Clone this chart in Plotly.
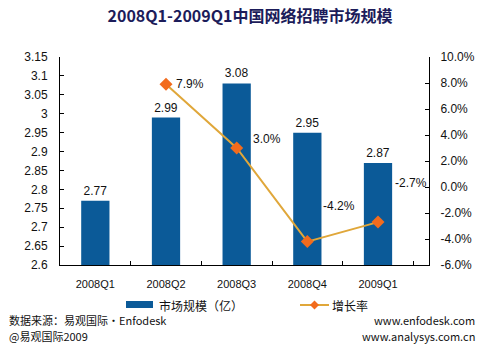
import plotly.graph_objects as go

categories = ["2008Q1", "2008Q2", "2008Q3", "2008Q4", "2009Q1"]
market_size = [2.77, 2.99, 3.08, 2.95, 2.87]
growth_x = ["2008Q2", "2008Q3", "2008Q4", "2009Q1"]
growth_rate = [7.9, 3.0, -4.2, -2.7]
growth_labels = ["7.9%", "3.0%", "-4.2%", "-2.7%"]
left_ticks = [2.6, 2.65, 2.7, 2.75, 2.8, 2.85, 2.9, 2.95, 3.0, 3.05, 3.1, 3.15]
left_ticktext = ["2.6", "2.65", "2.7", "2.75", "2.8", "2.85", "2.9", "2.95", "3", "3.05", "3.1", "3.15"]
right_ticks = [-6, -4, -2, 0, 2, 4, 6, 8, 10]
right_ticktext = ["-6.0%", "-4.0%", "-2.0%", "0.0%", "2.0%", "4.0%", "6.0%", "8.0%", "10.0%"]

FONT = "Liberation Sans, Arial, Noto Sans CJK SC, sans-serif"
CJK = "Noto Sans CJK SC, Liberation Sans, sans-serif"
BAR_COLOR = "#0B5A98"
LINE_COLOR = "#E0A73A"
MARK_COLOR = "#F26B1D"

# plot area in pixels: x 60..429, y 57..265
L, R, T, B = 60, 429, 57, 265
PW, PH = R - L, B - T


def px(xp):
    return (xp - L) / PW


def py(yp):
    return (B - yp) / PH


fig = go.Figure()
fig.add_trace(go.Bar(
    x=categories, y=market_size, name="市场规模（亿）",
    marker=dict(color=BAR_COLOR, line=dict(width=0)),
    width=0.4,
    text=[f"{v:.2f}" for v in market_size], textposition="outside",
    textfont=dict(size=12, color="#111111", family=FONT),
    cliponaxis=False, showlegend=False,
))
fig.add_trace(go.Scatter(
    x=growth_x, y=growth_rate, name="增长率", yaxis="y2",
    mode="lines+markers",
    line=dict(color=LINE_COLOR, width=2),
    marker=dict(symbol="diamond", size=10, color=MARK_COLOR, line=dict(width=0)),
    showlegend=False,
))

offsets = [(8, 0), (14, 9), (14, 36), (15, 39)]
for xv, yv, lab, (dx, dy) in zip(growth_x, growth_rate, growth_labels, offsets):
    fig.add_annotation(x=xv, y=yv, xref="x", yref="y2", text=lab, showarrow=False,
                       xanchor="left", yanchor="middle", xshift=dx, yshift=dy,
                       font=dict(size=12, color="#111111", family=FONT))

fig.update_layout(
    width=500, height=345,
    margin=dict(l=L, r=500 - R, t=T, b=345 - B),
    paper_bgcolor="white", plot_bgcolor="white",
    title=dict(text="<b>2008Q1-2009Q1中国网络招聘市场规模</b>", x=0.5, xanchor="center",
               y=0.952, yanchor="middle",
               font=dict(size=16, color="#1C1C5A", family=CJK)),
    showlegend=False,
    bargap=0.6,
    xaxis=dict(showline=True, linecolor="#000000", linewidth=1, ticks="inside",
               tickcolor="#000000", ticklen=4, tickson="boundaries",
               ticklabelstandoff=9,
               tickfont=dict(size=11, color="#111111", family=FONT)),
    yaxis=dict(range=[2.6, 3.15], tickvals=left_ticks, ticktext=left_ticktext,
               showline=True, linecolor="#000000", linewidth=1, ticks="inside",
               tickcolor="#000000", ticklen=4, showgrid=False, zeroline=False,
               ticklabelstandoff=9,
               tickfont=dict(size=12, color="#111111", family=FONT)),
    yaxis2=dict(range=[-6, 10], tickvals=right_ticks, ticktext=right_ticktext,
                overlaying="y", side="right",
                showline=True, linecolor="#000000", linewidth=1, ticks="inside",
                tickcolor="#000000", ticklen=4, showgrid=False, zeroline=False,
                ticklabelstandoff=8,
                tickfont=dict(size=12, color="#111111", family=FONT)),
)

# legend drawn manually
ly = 305
fig.add_shape(type="rect", xref="paper", yref="paper",
              x0=px(126), x1=px(153), y0=py(301), y1=py(308),
              fillcolor=BAR_COLOR, line=dict(width=0))
fig.add_annotation(text="市场规模（亿）", x=px(157), y=py(ly), xref="paper", yref="paper",
                   showarrow=False, xanchor="left", yanchor="middle",
                   font=dict(size=12, color="#111111", family=CJK))
fig.add_shape(type="line", xref="paper", yref="paper",
              x0=px(300), x1=px(329), y0=py(ly), y1=py(ly),
              line=dict(color=LINE_COLOR, width=2))
cx, cy, h = 314.5, ly, 4.5
fig.add_shape(type="path", xref="paper", yref="paper",
              path=(f"M {px(cx - h)} {py(cy)} L {px(cx)} {py(cy - h)} "
                    f"L {px(cx + h)} {py(cy)} L {px(cx)} {py(cy + h)} Z"),
              fillcolor=MARK_COLOR, line=dict(width=0))
fig.add_annotation(text="增长率", x=px(330), y=py(ly), xref="paper", yref="paper",
                   showarrow=False, xanchor="left", yanchor="middle",
                   font=dict(size=12, color="#111111", family=CJK))

footer = [
    ("数据来源：易观国际·Enfodesk", 7, 320, "left"),
    ("@易观国际2009", 7, 336, "left"),
    ("www.enfodesk.com", 477, 320, "right"),
    ("www.analysys.com.cn", 477, 336, "right"),
]
for txt, xx, yy, anc in footer:
    fig.add_annotation(text=txt, x=px(xx), y=py(yy), xref="paper", yref="paper",
                       showarrow=False, xanchor=anc, yanchor="middle",
                       font=dict(size=11, color="#111111", family=CJK))

fig.write_html("out.html")
